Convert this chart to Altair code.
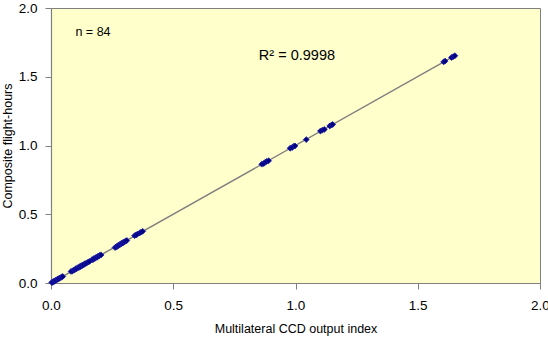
import altair as alt
import pandas as pd

# Multilateral CCD output index vs composite flight-hours (84 observations)
ccd_index = [
    0.003, 0.006, 0.009, 0.012, 0.015, 0.018, 0.021, 0.025, 0.028, 0.032, 0.036, 0.040, 0.044, 0.048,
    0.082, 0.088, 0.093, 0.097, 0.101, 0.105, 0.110, 0.114, 0.118, 0.121, 0.124, 0.128, 0.131, 0.135,
    0.140, 0.146, 0.152, 0.158,
    0.168, 0.172, 0.176, 0.180, 0.184, 0.188, 0.192, 0.196, 0.200, 0.205,
    0.262, 0.266, 0.270, 0.273, 0.276, 0.279, 0.282, 0.285, 0.288, 0.291, 0.294, 0.297, 0.301, 0.305, 0.310,
    0.342, 0.348, 0.353, 0.362, 0.368, 0.375,
    0.862, 0.870, 0.876, 0.882, 0.890,
    0.978, 0.986, 0.992, 0.998,
    1.044,
    1.102, 1.110, 1.118,
    1.140, 1.146, 1.152,
    1.606, 1.612,
    1.638, 1.645, 1.652,
]
flight_hours = [
    0.004, 0.005, 0.010, 0.011, 0.016, 0.017, 0.022, 0.024, 0.029, 0.031, 0.037, 0.039, 0.045, 0.047,
    0.084, 0.087, 0.095, 0.096, 0.103, 0.104, 0.112, 0.113, 0.120, 0.119, 0.126, 0.127, 0.133, 0.134,
    0.142, 0.145, 0.153, 0.157,
    0.170, 0.171, 0.178, 0.179, 0.186, 0.187, 0.194, 0.195, 0.202, 0.204,
    0.258, 0.262, 0.266, 0.271, 0.273, 0.277, 0.280, 0.284, 0.287, 0.290, 0.293, 0.296, 0.300, 0.304, 0.309,
    0.344, 0.349, 0.355, 0.363, 0.370, 0.376,
    0.864, 0.869, 0.878, 0.884, 0.889,
    0.980, 0.985, 0.994, 0.997,
    1.043,
    1.105, 1.112, 1.117,
    1.142, 1.148, 1.153,
    1.608, 1.614,
    1.640, 1.646, 1.653,
]
axis_ticks = [0.0, 0.5, 1.0, 1.5, 2.0]

n_label = "n = 84"
r2_label = "R² = 0.9998"

df = pd.DataFrame({"x": ccd_index, "y": flight_hours})
n_note = pd.DataFrame({"x": [0.10], "y": [1.826], "label": [n_label]})
r2_note = pd.DataFrame({"x": [1.006], "y": [1.65], "label": [r2_label]})

FONT = "Liberation Sans"
GREY = "#808080"

x_scale = alt.Scale(domain=[0, 2], nice=False, zero=True)
y_scale = alt.Scale(domain=[0, 2], nice=False, zero=True)

x_axis = alt.Axis(
    values=axis_ticks, format=".1f", grid=False, labelFlush=False,
    title="Multilateral CCD output index",
    labelFontSize=13.5, titleFontSize=12.5, titleFontWeight="normal",
    labelPadding=9, titlePadding=11,
)
y_axis = alt.Axis(
    values=axis_ticks, format=".1f", grid=False, labelFlush=False,
    title="Composite flight-hours",
    labelFontSize=13.5, titleFontSize=12.5, titleFontWeight="normal",
    labelPadding=8, titlePadding=4,
)

base = alt.Chart(df)

points = base.mark_point(
    shape="diamond", filled=True, size=34, color="#000080",
    stroke="#1c1ca8", strokeWidth=0.8, opacity=1,
).encode(
    x=alt.X("x:Q", scale=x_scale, axis=x_axis),
    y=alt.Y("y:Q", scale=y_scale, axis=y_axis),
)

trend = base.transform_regression("x", "y").mark_line(
    color=GREY, strokeWidth=1.5
).encode(
    x=alt.X("x:Q", scale=x_scale),
    y=alt.Y("y:Q", scale=y_scale),
)

n_text = alt.Chart(n_note).mark_text(
    align="left", baseline="middle", fontSize=12.5, font=FONT, color="black"
).encode(x=alt.X("x:Q", scale=x_scale), y=alt.Y("y:Q", scale=y_scale), text="label:N")

r2_text = alt.Chart(r2_note).mark_text(
    align="center", baseline="middle", fontSize=14.5, font=FONT, color="black"
).encode(x=alt.X("x:Q", scale=x_scale), y=alt.Y("y:Q", scale=y_scale), text="label:N")

chart = (
    alt.layer(trend, points, n_text, r2_text)
    .properties(
        width=489, height=275,
        autosize=alt.AutoSizeParams(type="none"),
        padding={"left": 51, "top": 8, "right": 8, "bottom": 60},
        background="white",
    )
    .configure_view(fill="#FFFFCC", stroke=GREY, strokeWidth=1)
    .configure_axis(
        domainColor=GREY, tickColor=GREY, tickSize=6, domainWidth=1.2,
        labelColor="black", titleColor="black",
        labelFont=FONT, titleFont=FONT,
    )
)

chart.save("out.html", embed_options={"renderer": "svg", "actions": False})
